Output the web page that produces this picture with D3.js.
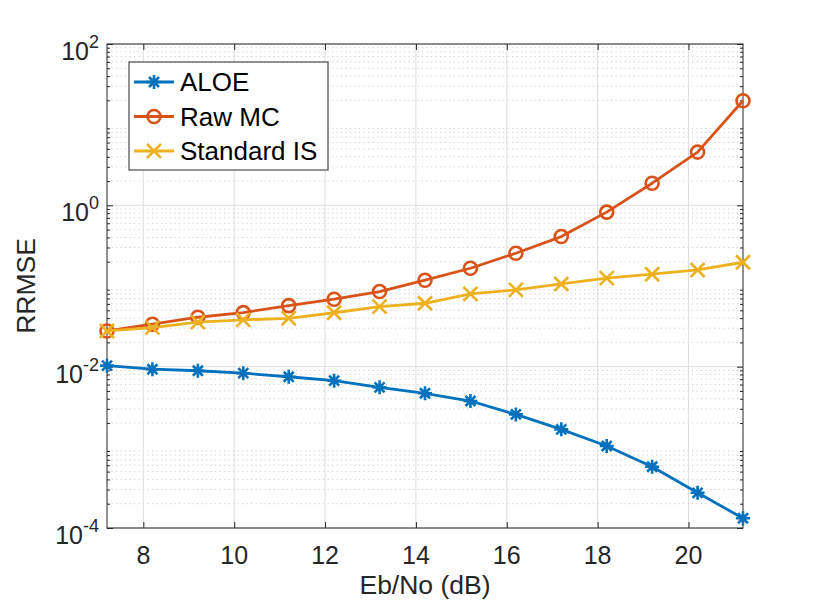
<!DOCTYPE html>
<html>
<head>
<meta charset="utf-8">
<script src="https://cdn.jsdelivr.net/npm/d3@7"></script>
<style>
  body { margin: 0; background: #fff; }
  svg { display: block; font-family: "Liberation Sans", Arial, sans-serif; }
</style>
</head>
<body>
<svg id="chart"></svg>
<script>
/* data */
var ebno = [7.2, 8.2, 9.2, 10.2, 11.2, 12.2, 13.2, 14.2, 15.2, 16.2, 17.2, 18.2, 19.2, 20.2, 21.2];
var aloe = [0.0103, 0.0093, 0.0089, 0.0083, 0.0075, 0.0067, 0.00554, 0.00468, 0.00375, 0.00256, 0.00167, 0.00104, 0.000575, 0.000273, 0.000132];
var rawMC = [0.0277, 0.0336, 0.041, 0.0468, 0.0571, 0.0686, 0.0853, 0.118, 0.166, 0.255, 0.41, 0.824, 1.88, 4.57, 19.8];
var stdIS = [0.0277, 0.0305, 0.0356, 0.038, 0.0398, 0.0466, 0.0555, 0.0611, 0.0798, 0.0895, 0.106, 0.125, 0.14, 0.158, 0.197];
var xTicks = [8, 10, 12, 14, 16, 18, 20];
var yExps = [-4, -2, 0, 2];
var seriesNames = ['ALOE', 'Raw MC', 'Standard IS'];

var W = 821, H = 606;
var m = {left: 107, right: 743, top: 44, bottom: 528};

var svg = d3.select('#chart').attr('width', W).attr('height', H);

var x = d3.scaleLinear().domain([7.2, 21.2]).range([m.left, m.right]);
var y = d3.scaleLog().domain([1e-4, 1e2]).range([m.bottom, m.top]);

var series = [
    {name: seriesNames[0], values: aloe, color: '#0072BD', marker: 'star'},
    {name: seriesNames[1], values: rawMC, color: '#D95319', marker: 'circle'},
    {name: seriesNames[2], values: stdIS, color: '#EDB120', marker: 'cross'}
];

/* minor ticks of the log axis */
var minorVals = [];
for (var e = -4; e < 2; e++) {
    for (var k = 2; k <= 9; k++) minorVals.push(k * Math.pow(10, e));
}

var grid = svg.append('g');
grid.selectAll('line.minor')
    .data(minorVals).enter().append('line')
    .attr('x1', m.left).attr('x2', m.right)
    .attr('y1', d => y(d)).attr('y2', d => y(d))
    .attr('stroke', '#cdcdcd').attr('stroke-width', 1)
    .attr('stroke-dasharray', '1.2,3.3');
grid.selectAll('line.vx')
    .data(xTicks).enter().append('line')
    .attr('x1', d => x(d)).attr('x2', d => x(d))
    .attr('y1', m.top).attr('y2', m.bottom)
    .attr('stroke', '#dedede').attr('stroke-width', 1);
grid.selectAll('line.hy')
    .data(yExps).enter().append('line')
    .attr('x1', m.left).attr('x2', m.right)
    .attr('y1', d => y(Math.pow(10, d))).attr('y2', d => y(Math.pow(10, d)))
    .attr('stroke', '#dedede').attr('stroke-width', 1);

/* axes: d3 axes with inward ticks, box on */
var axCol = '#262626';
function styleAxis(g) {
    g.select('.domain').remove();
    g.selectAll('.tick line').attr('stroke', axCol);
    g.selectAll('.tick text').remove();
}
svg.append('g').attr('transform', `translate(0,${m.bottom})`)
    .call(d3.axisBottom(x).tickValues(xTicks).tickSize(-6)).call(styleAxis);
svg.append('g').attr('transform', `translate(0,${m.top})`)
    .call(d3.axisTop(x).tickValues(xTicks).tickSize(-6)).call(styleAxis);
svg.append('g').attr('transform', `translate(${m.left},0)`)
    .call(d3.axisLeft(y).tickValues(yExps.map(d => Math.pow(10, d))).tickSize(-6)).call(styleAxis);
svg.append('g').attr('transform', `translate(${m.right},0)`)
    .call(d3.axisRight(y).tickValues(yExps.map(d => Math.pow(10, d))).tickSize(-6)).call(styleAxis);
svg.append('g').attr('transform', `translate(${m.left},0)`)
    .call(d3.axisLeft(y).tickValues(minorVals).tickSize(-3)).call(styleAxis);
svg.append('g').attr('transform', `translate(${m.right},0)`)
    .call(d3.axisRight(y).tickValues(minorVals).tickSize(-3)).call(styleAxis);

svg.append('rect')
    .attr('x', m.left).attr('y', m.top)
    .attr('width', m.right - m.left).attr('height', m.bottom - m.top)
    .attr('fill', 'none').attr('stroke', axCol).attr('stroke-width', 1);

/* tick labels */
svg.append('g').selectAll('text')
    .data(xTicks).enter().append('text')
    .attr('x', d => x(d)).attr('y', 564)
    .attr('text-anchor', 'middle')
    .attr('font-size', 25).attr('fill', axCol)
    .text(d => d);

var yl = svg.append('g').selectAll('text')
    .data(yExps).enter().append('text')
    .attr('x', 99).attr('y', d => y(Math.pow(10, d)) + 16)
    .attr('text-anchor', 'end')
    .attr('font-size', 25).attr('fill', axCol);
yl.append('tspan').text('10');
yl.append('tspan').attr('dy', -12).attr('font-size', 18).text(d => d);

/* axis labels */
svg.append('text')
    .attr('x', (m.left + m.right) / 2).attr('y', 594)
    .attr('text-anchor', 'middle').attr('font-size', 26.5).attr('fill', axCol)
    .text('Eb/No (dB)');
svg.append('text')
    .attr('transform', `translate(35,${(m.top + m.bottom) / 2}) rotate(-90)`)
    .attr('text-anchor', 'middle').attr('font-size', 26.5).attr('fill', axCol)
    .text('RRMSE');

/* markers */
function drawMarker(sel, type, color) {
    if (type === 'circle') {
        sel.append('circle').attr('r', 6.5)
            .attr('fill', 'none').attr('stroke', color).attr('stroke-width', 2.6);
    } else if (type === 'cross') {
        sel.append('path').attr('d', 'M-7,-7L7,7M-7,7L7,-7')
            .attr('fill', 'none').attr('stroke', color).attr('stroke-width', 2.6);
    } else {
        sel.append('path').attr('d', 'M0,-7V7M-7,0H7M-5,-5L5,5M-5,5L5,-5')
            .attr('fill', 'none').attr('stroke', color).attr('stroke-width', 2.6);
    }
}

var line = d3.line().x(d => x(d[0])).y(d => y(d[1]));

series.forEach(function(s) {
    var pts = ebno.map((v, i) => [v, s.values[i]]);
    var g = svg.append('g');
    g.append('path')
        .attr('d', line(pts))
        .attr('fill', 'none').attr('stroke', s.color).attr('stroke-width', 2.8)
        .attr('stroke-linejoin', 'round');
    g.selectAll('g.pt')
        .data(pts).enter().append('g')
        .attr('transform', d => `translate(${x(d[0])},${y(d[1])})`)
        .each(function() { drawMarker(d3.select(this), s.marker, s.color); });
});

/* legend */
var leg = svg.append('g');
leg.append('rect')
    .attr('x', 129).attr('y', 62).attr('width', 199).attr('height', 108)
    .attr('fill', '#fff').attr('stroke', axCol).attr('stroke-width', 1);
series.forEach(function(s, i) {
    var cy = 82 + i * 34.5;
    var row = leg.append('g');
    row.append('line')
        .attr('x1', 134).attr('x2', 174).attr('y1', cy).attr('y2', cy)
        .attr('stroke', s.color).attr('stroke-width', 2.8);
    drawMarker(row.append('g').attr('transform', `translate(154,${cy})`), s.marker, s.color);
    row.append('text')
        .attr('x', 180).attr('y', cy + 9)
        .attr('font-size', 26).attr('fill', '#000')
        .text(s.name);
});
</script>
</body>
</html>
